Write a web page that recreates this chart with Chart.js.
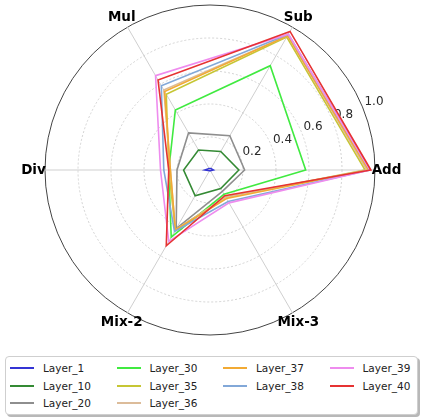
<!DOCTYPE html>
<html>
<head>
<meta charset="utf-8">
<script src="https://cdn.jsdelivr.net/npm/chart.js@4/dist/chart.umd.min.js"></script>
<style>
  body { margin: 0; background: #fff; font-family: "DejaVu Sans", sans-serif; }
  #zone { position: relative; width: 423px; height: 420px; }
  #radar { position: absolute; left: 0; top: 0; }
  #legende {
    position: absolute; left: 5px; top: 356px; width: 411px; height: 57px;
    border: 1px solid #cfcfcf; border-radius: 4px; background: #fff;
    box-shadow: 2px 2px 0 #b8b8b8;
  }
  #legende .grille {
    position: absolute; left: 4px; top: 2px;
    display: grid;
    grid-template-columns: repeat(4, 106.5px);
    grid-template-rows: repeat(3, 17.8px);
  }
  #legende .item { display: flex; align-items: center; font-size: 10.5px; color: #222; }
  #legende .trait { display: inline-block; width: 24px; height: 2px; margin-right: 9px; }
</style>
</head>
<body>
<div id="zone">
  <canvas id="radar" width="423" height="345"></canvas>
  <div id="legende"><div class="grille" id="legende-grille"></div></div>
</div>
<script>
// ── DONNÉES ───────────────────────────────────────
const CATEGORIES = ['Add', 'Sub', 'Mul', 'Div', 'Mix-2', 'Mix-3'];
const COUCHES    = ['Layer_1', 'Layer_10', 'Layer_20', 'Layer_30', 'Layer_35',
                    'Layer_36', 'Layer_37', 'Layer_38', 'Layer_39', 'Layer_40'];

// valeurs dans l'ordre des catégories : Add, Sub, Mul, Div, Mix-2, Mix-3
const LAYER_1  = [0.02,  0.01, 0.01, 0.03, 0.005, 0.005];
const LAYER_10 = [0.175, 0.13, 0.14, 0.16, 0.18,  0.13];
const LAYER_20 = [0.21,  0.24, 0.26, 0.20, 0.41,  0.15];
const LAYER_30 = [0.58,  0.73, 0.42, 0.25, 0.47,  0.17];
const LAYER_35 = [0.94,  0.93, 0.53, 0.25, 0.42,  0.19];
const LAYER_36 = [0.95,  0.94, 0.56, 0.24, 0.42,  0.19];
const LAYER_37 = [0.96,  0.94, 0.55, 0.24, 0.42,  0.20];
const LAYER_38 = [0.97,  0.95, 0.59, 0.28, 0.43,  0.22];
const LAYER_39 = [0.97,  0.95, 0.66, 0.30, 0.50,  0.23];
const LAYER_40 = [0.975, 0.97, 0.63, 0.25, 0.53,  0.18];

const TICKS_RAYON = [0.2, 0.4, 0.6, 0.8, 1.0];
const TICKS_TEXTE = ['0.2', '0.4', '0.6', '0.8', '1.0'];

// ── COULEURS ──────────────────────────────────────
const COULEURS = ['#3434d4', '#348a34', '#8e8e8e', '#40ea40', '#c6c634',
                  '#dcbc9a', '#f2aa34', '#82a8d8', '#ee8cee', '#e63232'];

const SERIES = [LAYER_1, LAYER_10, LAYER_20, LAYER_30, LAYER_35,
                LAYER_36, LAYER_37, LAYER_38, LAYER_39, LAYER_40];

// Chart.js tourne dans le sens horaire, matplotlib dans l'autre sens
const ORDRE = [0, 5, 4, 3, 2, 1];
function reordonner(tab) { return ORDRE.map(function(k) { return tab[k]; }); }

// ── ÉTIQUETTES (axes + graduations à 22.5°) ───────
const ANGLE_TICKS = 22.5;
const pluginEtiquettes = {
  id: 'etiquettes',
  beforeDatasetsDraw(chart) {
    const r = chart.scales.r;
    const ctx = chart.ctx;
    ctx.save();
    ctx.fillStyle = '#2a2a2a';
    ctx.font = '12px "DejaVu Sans"';
    ctx.textAlign = 'left';
    ctx.textBaseline = 'bottom';
    const a = ANGLE_TICKS * Math.PI / 180;
    TICKS_RAYON.forEach(function(v, j) {
      const d = r.getDistanceFromCenterForValue(v);
      ctx.fillText(TICKS_TEXTE[j], r.xCenter + Math.cos(a) * d + 2, r.yCenter - Math.sin(a) * d + 1);
    });

    ctx.fillStyle = '#000';
    ctx.font = 'bold 13.5px "DejaVu Sans"';
    ctx.textAlign = 'center';
    ctx.textBaseline = 'middle';
    ORDRE.forEach(function(k, i) {
      const p = r.getPointPosition(i, r.drawingArea * 1.07);
      ctx.fillText(CATEGORIES[k], p.x, p.y);
    });
    ctx.restore();
  }
};

// ── GRAPHIQUE RADAR ───────────────────────────────
new Chart(document.getElementById('radar'), {
  type: 'radar',
  data: {
    labels: reordonner(CATEGORIES),
    datasets: SERIES.map(function(s, i) {
      return {
        label: COUCHES[i],
        data: reordonner(s),
        borderColor: COULEURS[i],
        backgroundColor: 'transparent',
        borderWidth: 1.6,
        pointRadius: 0,
        fill: false,
        tension: 0,
        order: SERIES.length - i
      };
    })
  },
  options: {
    responsive: false,
    animation: false,
    layout: { padding: { left: 45, right: 48, top: 5, bottom: 10 } },
    plugins: { legend: { display: false }, tooltip: { enabled: false } },
    scales: {
      r: {
        min: 0,
        max: 1,
        startAngle: 90,
        ticks: { display: false, stepSize: 0.2 },
        pointLabels: { display: false },
        angleLines: { color: '#cfcfcf', lineWidth: 1 },
        grid: {
          circular: true,
          color: function(c) { return c.tick && c.tick.value >= 1 ? '#444' : '#d2d2d2'; },
          lineWidth: 1
        },
        border: {
          dash: function(c) { return c.tick && c.tick.value >= 1 ? [] : [2, 2]; }
        }
      }
    }
  },
  plugins: [pluginEtiquettes]
});

// ── LÉGENDE (4 colonnes, remplie par colonne comme matplotlib : 3,3,2,2) ──
const NB_COLONNES = 4;
const grille = document.getElementById('legende-grille');
const base  = Math.floor(COUCHES.length / NB_COLONNES);
const reste = COUCHES.length % NB_COLONNES;
let indice = 0;
for (let col = 0; col < NB_COLONNES; col++) {
  const taille = base + (col < reste ? 1 : 0);
  for (let ligne = 0; ligne < taille; ligne++, indice++) {
    const item = document.createElement('div');
    item.className = 'item';
    item.style.gridColumn = String(col + 1);
    item.style.gridRow = String(ligne + 1);
    item.innerHTML = '<span class="trait" style="background:' + COULEURS[indice] + '"></span>' + COUCHES[indice];
    grille.appendChild(item);
  }
}
</script>
</body>
</html>
